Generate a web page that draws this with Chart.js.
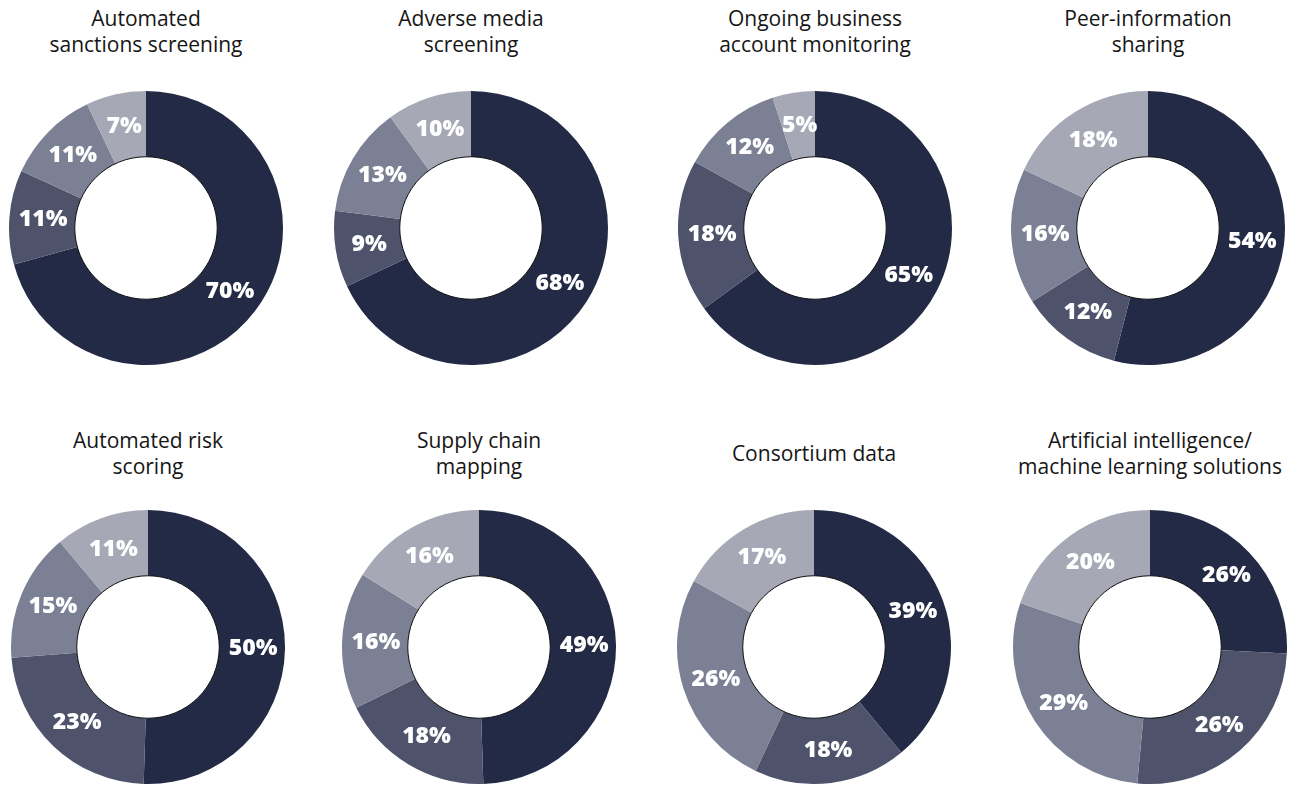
<!DOCTYPE html>
<html>
<head>
<meta charset="utf-8">
<script src="https://cdn.jsdelivr.net/npm/chart.js@4.4.1/dist/chart.umd.min.js"></script>
<style>
  html, body { margin: 0; padding: 0; background: #ffffff; }
  body { width: 1309px; height: 786px; position: relative; overflow: hidden; font-family: "Open Sans", Lato, sans-serif; }
  .title {
    position: absolute; width: 340px; height: 52px;
    display: flex; align-items: center; justify-content: center;
    text-align: center; font-size: 21px; line-height: 26px; color: #161616;
  }
  .donut { position: absolute; }
</style>
</head>
<body>
<script>
// Chart titles (row by row, left to right)
const titles = [
  "Automated<br>sanctions screening",
  "Adverse media<br>screening",
  "Ongoing business<br>account monitoring",
  "Peer-information<br>sharing",
  "Automated risk<br>scoring",
  "Supply chain<br>mapping",
  "Consortium data",
  "Artificial intelligence/<br>machine learning solutions"
];

// Segment shares (%) per chart, clockwise from 12 o'clock
const shareA = [70, 68, 65, 54, 50, 49, 39, 26];
const shareB = [11,  9, 18, 12, 23, 18, 18, 26];
const shareC = [11, 13, 12, 16, 15, 16, 26, 29];
const shareD = [ 7, 10,  5, 18, 11, 16, 17, 20];

const segmentColors = ["#232a45", "#4e536b", "#7c8094", "#a6a8b6"];

// Donut placement on the page
const centersX = [146, 471, 815, 1148, 148, 479, 814, 1150];
const centersY = [228, 228, 228, 228, 647, 647, 647, 647];
const titleTops = [5, 5, 5, 5, 427, 427, 427, 427];
const RADIUS = 137;

// Percentage labels centred in each ring segment, plus the hole outline
const ringLabels = {
  id: 'ringLabels',
  afterDatasetsDraw(chart) {
    const ctx = chart.ctx;
    const meta = chart.getDatasetMeta(0);
    const values = chart.data.datasets[0].data;
    ctx.save();
    ctx.font = "800 23px 'Open Sans', Lato, sans-serif";
    ctx.fillStyle = "#ffffff";
    ctx.textAlign = "center";
    ctx.textBaseline = "middle";
    meta.data.forEach((arc, i) => {
      const p = arc.tooltipPosition();
      ctx.fillText(values[i] + "%", p.x + 1, p.y);
    });
    const a0 = meta.data[0];
    ctx.beginPath();
    ctx.arc(a0.x, a0.y, a0.innerRadius, 0, Math.PI * 2);
    ctx.strokeStyle = "#111111";
    ctx.lineWidth = 1;
    ctx.stroke();
    ctx.restore();
  }
};

titles.forEach((t, i) => {
  const title = document.createElement('div');
  title.className = 'title';
  title.innerHTML = t;
  title.style.left = (centersX[i] - 170) + 'px';
  title.style.top = titleTops[i] + 'px';
  document.body.appendChild(title);

  const size = RADIUS * 2 + 2;
  const canvas = document.createElement('canvas');
  canvas.className = 'donut';
  canvas.width = size;
  canvas.height = size;
  canvas.style.width = size + 'px';
  canvas.style.height = size + 'px';
  canvas.style.left = (centersX[i] - size / 2) + 'px';
  canvas.style.top = (centersY[i] - size / 2) + 'px';
  document.body.appendChild(canvas);

  new Chart(canvas, {
    type: 'doughnut',
    data: {
      labels: ["A", "B", "C", "D"],
      datasets: [{
        data: [shareA[i], shareB[i], shareC[i], shareD[i]],
        backgroundColor: segmentColors,
        borderWidth: 0,
        hoverOffset: 0,
        offset: 0
      }]
    },
    options: {
      responsive: false,
      animation: false,
      devicePixelRatio: 1,
      cutout: '52%',
      rotation: 0,
      layout: { padding: 1 },
      plugins: { legend: { display: false }, tooltip: { enabled: false }, title: { display: false } },
      events: []
    },
    plugins: [ringLabels]
  });
});
</script>
</body>
</html>
